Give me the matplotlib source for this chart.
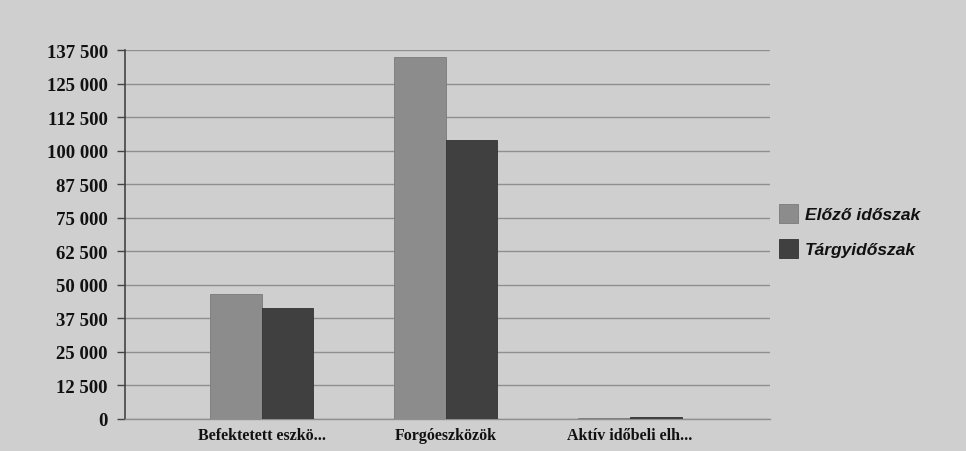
import matplotlib
matplotlib.use("Agg")
import matplotlib.pyplot as plt
import numpy as np

categories = ["Befektetett eszkö...", "Forgóeszközök", "Aktív időbeli elh..."]
series_names = ["Előző időszak", "Tárgyidőszak"]
elozo = [46600, 134900, 500]
targy = [41400, 104000, 800]
yticks = [0, 12500, 25000, 37500, 50000, 62500, 75000, 87500, 100000, 112500, 125000, 137500]
ytick_labels = ["0", "12 500", "25 000", "37 500", "50 000", "62 500", "75 000",
                "87 500", "100 000", "112 500", "125 000", "137 500"]

bg = "#cfcfcf"
fig = plt.figure(figsize=(9.66, 4.52), dpi=100, facecolor=bg)
ax = fig.add_axes([0.129, 0.071, 0.668, 0.816], facecolor=bg)

x = np.arange(len(categories))
w = 0.28
ax.bar(x - w / 2, elozo, width=w, color="#8c8c8c", edgecolor="#7a7a7a", linewidth=0.6,
       label=series_names[0], zorder=3)
ax.bar(x + w / 2, targy, width=w, color="#404040", edgecolor="#333333", linewidth=0.6,
       label=series_names[1], zorder=3)

ax.set_ylim(0, 137500)
ax.set_xlim(-0.745, 2.76)
ax.set_yticks(yticks)
ax.set_yticklabels(ytick_labels, fontfamily="Liberation Serif", fontweight="bold",
                   fontsize=13.5, color="#111111")
ax.set_xticks(x)
ax.set_xticklabels(categories, fontfamily="Liberation Serif", fontweight="bold",
                   fontsize=11.5, color="#111111")
ax.tick_params(axis="x", length=0, pad=6)
ax.tick_params(axis="y", length=6, width=1, color="#444444", pad=6)

ax.grid(axis="y", color="#8f8f8f", linewidth=1.0, zorder=0)
for s in ["top", "right"]:
    ax.spines[s].set_visible(False)
ax.spines["left"].set_color("#444444")
ax.spines["left"].set_linewidth(1.2)
ax.spines["bottom"].set_color("#8f8f8f")
ax.spines["bottom"].set_linewidth(1.0)

leg = ax.legend(loc="center left", bbox_to_anchor=(0.99, 0.51), frameon=False,
                prop={"family": "Liberation Sans", "style": "italic", "weight": "bold", "size": 12.5},
                handlelength=1.1, handleheight=1.3, handletextpad=0.4, labelspacing=0.9)
for t in leg.get_texts():
    t.set_color("#111111")

fig.savefig("out.png", dpi=100, facecolor=bg)
